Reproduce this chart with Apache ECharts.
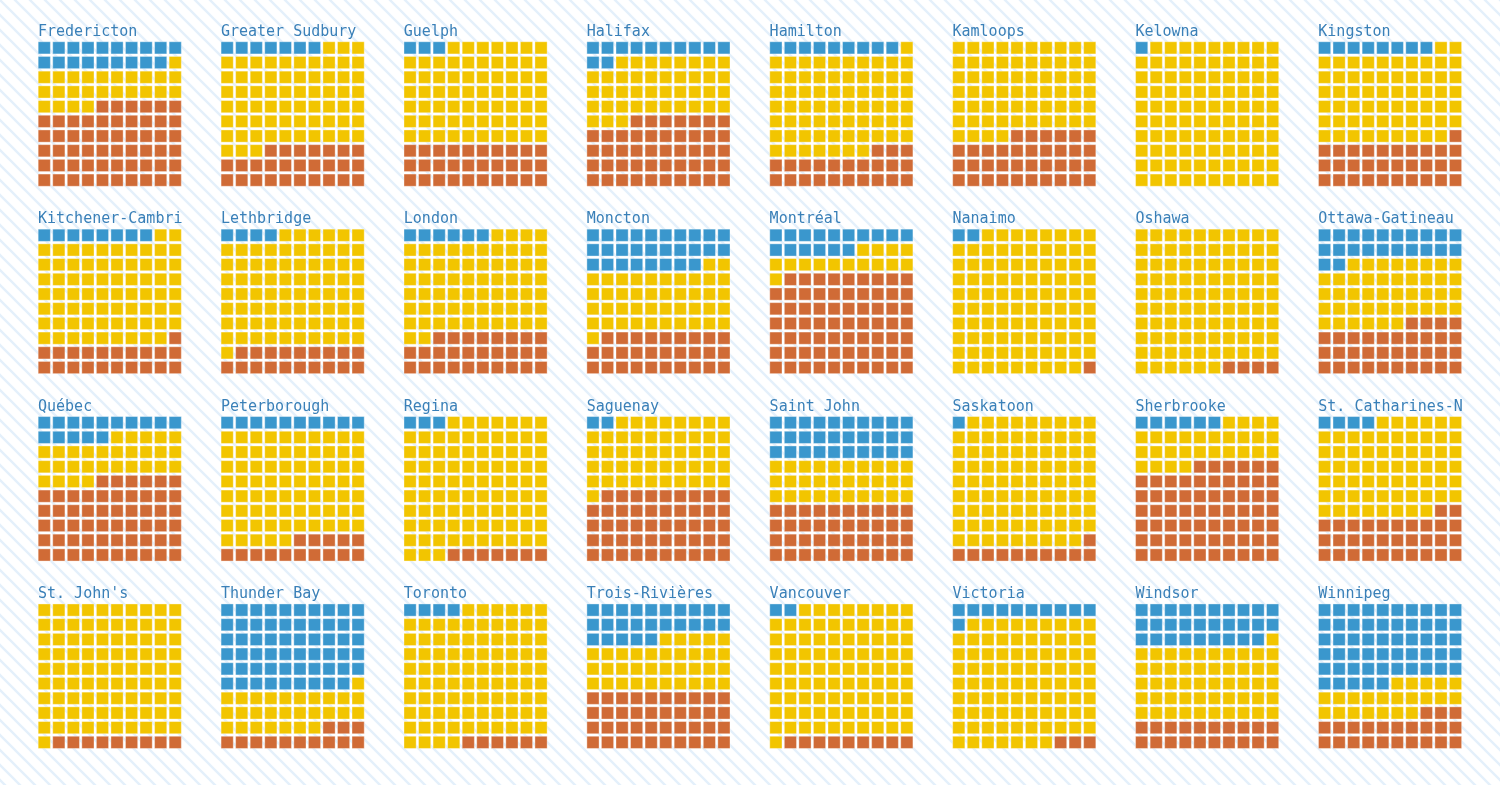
<!DOCTYPE html>
<html>
<head>
<meta charset="utf-8">
<script src="https://cdn.jsdelivr.net/npm/echarts@6/dist/echarts.min.js"></script>
<style>
  html, body { margin: 0; padding: 0; background: #fff; }
  #chart { width: 1500px; height: 785px; }
</style>
</head>
<body>
<div id="chart"></div>
<script>
// cities in reading order, cells out of 100 for each of the three groups
const cities = [
  "Fredericton", "Greater Sudbury", "Guelph", "Halifax", "Hamilton", "Kamloops", "Kelowna", "Kingston",
  "Kitchener-Cambridge-Waterloo", "Lethbridge", "London", "Moncton", "Montréal", "Nanaimo", "Oshawa", "Ottawa-Gatineau",
  "Québec", "Peterborough", "Regina", "Saguenay", "Saint John", "Saskatoon", "Sherbrooke", "St. Catharines-Niagara",
  "St. John's", "Thunder Bay", "Toronto", "Trois-Rivières", "Vancouver", "Victoria", "Windsor", "Winnipeg"
];
const blueCells   = [19, 7, 3, 12, 9, 0, 1, 8,   8, 4, 6, 28, 16, 2, 0, 22,   15, 10, 3, 2, 30, 1, 6, 4,   0, 59, 4, 25, 2, 11, 29, 55];
const yellowCells = [25, 66, 67, 41, 68, 64, 99, 61,   71, 77, 66, 43, 15, 97, 96, 44,   29, 75, 90, 49, 30, 88, 28, 64,   91, 28, 90, 35, 89, 86, 51, 22];
const orangeCells = [56, 27, 30, 47, 23, 36, 0, 31,   21, 19, 28, 29, 69, 1, 4, 34,   56, 15, 7, 49, 40, 11, 66, 32,   9, 13, 6, 40, 9, 3, 20, 23];

const colors = ["#3a97cd", "#f2c500", "#d06b36"];

// diagonal hatch for the page background
const tile = document.createElement("canvas");
tile.width = 15; tile.height = 15;
const g = tile.getContext("2d");
g.strokeStyle = "#e4f0fb";
g.lineWidth = 2.4;
g.beginPath();
g.moveTo(-3, -3); g.lineTo(18, 18);
g.moveTo(-3, 12); g.lineTo(3, 18);
g.moveTo(12, -3); g.lineTo(18, 3);
g.stroke();

const chart = echarts.init(document.getElementById("chart"));

const titles = [], grids = [], xAxes = [], yAxes = [], series = [];
cities.forEach((name, i) => {
  const col = i % 8, row = Math.floor(i / 8);
  const left = 37 + col * 182.9;
  const top = 40.5 + row * 187.4;

  titles.push({
    text: name,
    left: left + 1,
    top: top - 16,
    padding: 0,
    textStyle: {
      fontFamily: "DejaVu Sans Mono",
      fontSize: 15,
      fontWeight: "normal",
      color: "#3a80b8",
      width: 146,
      overflow: "truncate",
      ellipsis: ""
    }
  });
  grids.push({ left: left, top: top, width: 145.5, height: 147 });
  xAxes.push({ gridIndex: i, type: "value", min: -0.5, max: 9.5, show: false });
  yAxes.push({ gridIndex: i, type: "value", min: -0.5, max: 9.5, inverse: true, show: false });

  const counts = [blueCells[i], yellowCells[i], orangeCells[i]];
  const cells = [];
  let k = 0;
  counts.forEach((n, c) => {
    for (let j = 0; j < n; j++, k++) {
      cells.push([k % 10, Math.floor(k / 10), c]);
    }
  });
  series.push({
    type: "scatter",
    xAxisIndex: i,
    yAxisIndex: i,
    symbol: "rect",
    symbolSize: 12.2,
    silent: true,
    animation: false,
    data: cells,
    itemStyle: {
      opacity: 1,
      color: p => colors[p.value[2]],
      borderColor: "rgba(255,255,255,0.45)",
      borderWidth: 0.8
    }
  });
});

chart.setOption({
  backgroundColor: { image: tile, repeat: "repeat" },
  animation: false,
  title: titles,
  grid: grids,
  xAxis: xAxes,
  yAxis: yAxes,
  series: series
});
</script>
</body>
</html>
